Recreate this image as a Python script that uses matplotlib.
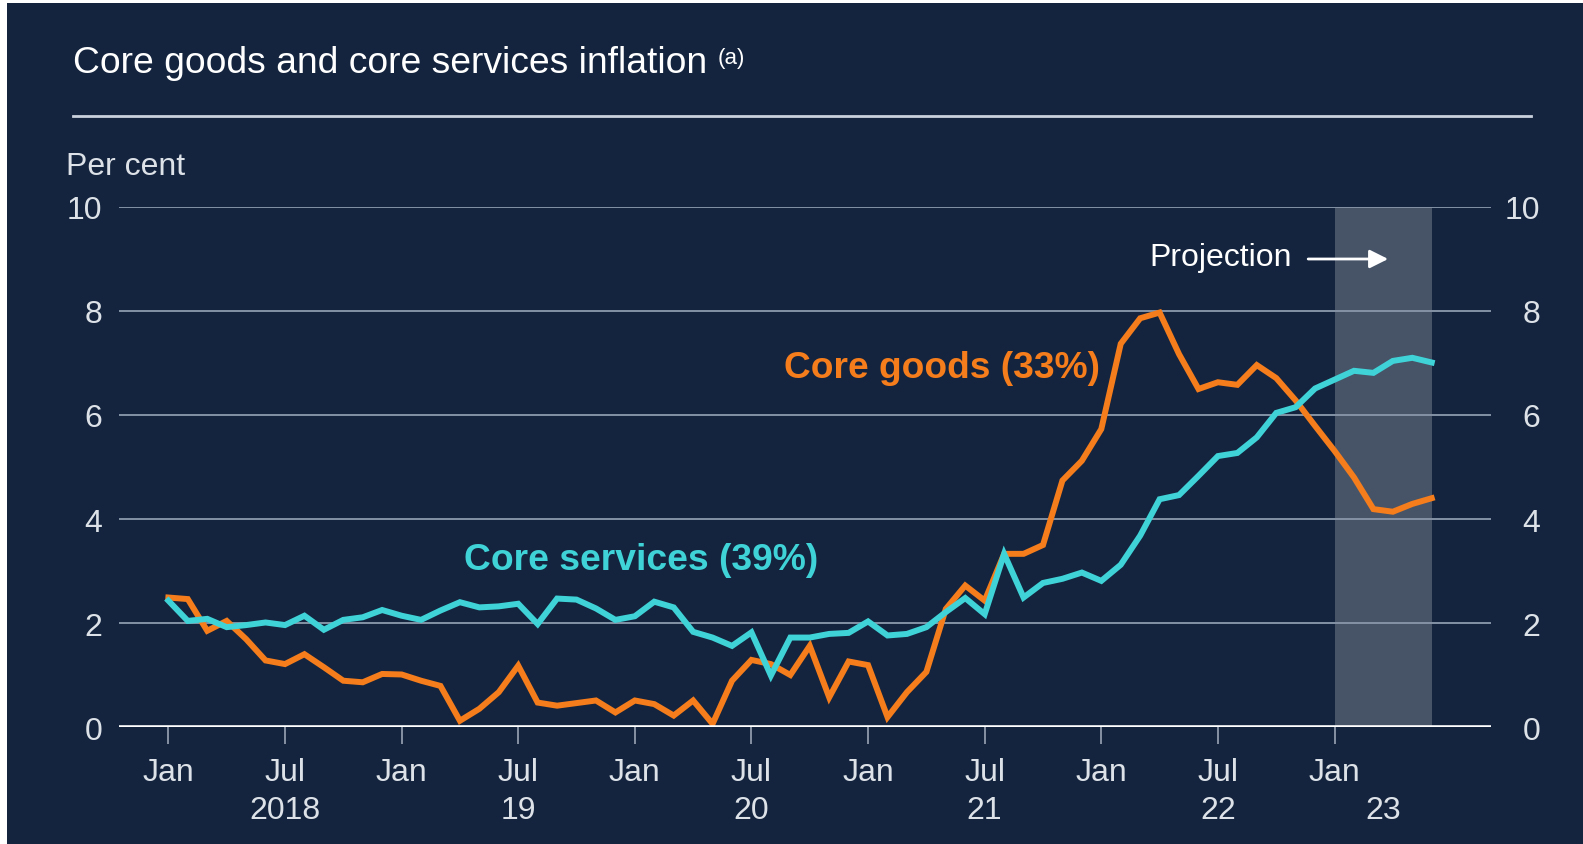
import matplotlib.pyplot as plt
import matplotlib.transforms as mtransforms
from matplotlib.lines import Line2D
from matplotlib.patches import Rectangle
import numpy as np

plt.rcParams['font.family'] = ['Liberation Sans', 'DejaVu Sans']

# monthly twelve-month rates, Jan 2018 to Jun 2023 (last six months projected)
months = np.arange(66)
core_goods = [2.49, 2.46, 1.85, 2.04, 1.69, 1.28, 1.21, 1.40, 1.15, 0.89, 0.86, 1.02,
              1.01, 0.89, 0.79, 0.12, 0.35, 0.67, 1.18, 0.47, 0.41, 0.46, 0.51, 0.28,
              0.51, 0.44, 0.22, 0.51, 0.06, 0.89, 1.29, 1.21, 1.00, 1.56, 0.57, 1.26,
              1.19, 0.19, 0.67, 1.06, 2.27, 2.72, 2.43, 3.33, 3.33, 3.50, 4.74, 5.12,
              5.73, 7.37, 7.86, 7.97, 7.17, 6.50, 6.63, 6.58, 6.96, 6.71, 6.28, 5.79,
              5.31, 4.80, 4.19, 4.14, 4.29, 4.40]
core_services = [2.43, 2.04, 2.08, 1.92, 1.96, 2.01, 1.96, 2.14, 1.87, 2.06, 2.11, 2.25,
                 2.14, 2.06, 2.24, 2.40, 2.30, 2.32, 2.37, 1.98, 2.47, 2.45, 2.28, 2.06,
                 2.13, 2.41, 2.30, 1.83, 1.72, 1.56, 1.82, 0.99, 1.72, 1.72, 1.79, 1.81,
                 2.03, 1.76, 1.79, 1.92, 2.21, 2.48, 2.17, 3.33, 2.49, 2.77, 2.85, 2.97,
                 2.81, 3.12, 3.68, 4.38, 4.46, 4.83, 5.21, 5.27, 5.57, 6.04, 6.15, 6.51,
                 6.68, 6.85, 6.81, 7.04, 7.10, 7.01]

tick_pos = np.arange(0, 61, 6)
tick_labels = ['Jan', 'Jul'] * 5 + ['Jan']
year_pos = [6, 18, 30, 42, 54, 62.5]
year_labels = ['2018', '19', '20', '21', '22', '23']
y_ticks = [0, 2, 4, 6, 8, 10]
proj_start, proj_end = 60, 65

BG = '#14243e'
ORANGE = '#f57d1c'
CYAN = '#3fd3d8'
TXT = '#dde2e8'
W, H = 1583, 845

fig = plt.figure(figsize=(W / 100, H / 100), dpi=100, facecolor=BG)
ax = fig.add_axes([119 / W, 1 - 728 / H, (1491 - 119) / W, (728 - 208) / H])
ax.set_facecolor(BG)
ax.set_xlim(-2.54, 68.05)
ax.set_ylim(0, 10)
for s in ax.spines.values():
    s.set_visible(False)

# gridlines, projection band, zero line
for y in y_ticks[1:]:
    ax.axhline(y, color='#8592a5', lw=1.4, zorder=1)
ax.axvspan(proj_start, proj_end, color='white', alpha=0.22, lw=0, zorder=0.5)
ax.axhline(0, color='white', lw=2.6, zorder=4)

ax.plot(months, core_goods, color=ORANGE, lw=4.3, solid_joinstyle='miter', zorder=3)
ax.plot(months, core_services, color=CYAN, lw=4.3, solid_joinstyle='miter', zorder=3)

# month ticks plus year labels (the year labels sit on some of the month positions)
ax.xaxis.remove_overlapping_locs = False
ax.set_xticks(tick_pos, tick_labels)
ax.set_xticks(year_pos, year_labels, minor=True)
ax.tick_params(axis='x', which='major', length=12, width=1.2, color='#9aa5b5',
               labelsize=23, labelcolor=TXT, pad=9.5)
ax.tick_params(axis='x', which='minor', length=0, labelsize=23, labelcolor=TXT, pad=49)
ax.set_yticks(y_ticks)
ax.tick_params(axis='y', length=0, pad=12, labelsize=23, labelcolor=TXT)

# right-hand axis labels
right = mtransforms.blended_transform_factory(fig.transFigure, ax.transData)
for y in y_ticks:
    ax.text(1540 / W, y, str(y), transform=right, ha='right', va='center_baseline',
            size=23, color=TXT)

ax.text(31.7, 6.91, 'Core goods (33%)', color=ORANGE, size=26.7, weight='bold',
        va='center', ha='left')
ax.text(15.2, 3.22, 'Core services (39%)', color=CYAN, size=26.8, weight='bold',
        va='center', ha='left')
ax.text(57.8, 9.03, 'Projection', color='white', size=23, va='center', ha='right')
ax.annotate('', xy=(62.9, 9.0), xytext=(58.5, 9.0),
            arrowprops=dict(arrowstyle='-|>', color='white', lw=2, mutation_scale=28))

# heading and rule
title = fig.text(72.7 / W, 1 - 73 / H, 'Core goods and core services inflation',
                 size=26.8, color='white', va='baseline')
fig.canvas.draw()
bb = title.get_window_extent()
fig.text((bb.x1 + 11) / W, 1 - 64 / H, '(a)', size=16, color='white', va='baseline')
fig.add_artist(Line2D([72.7 / W, 1531 / W], [1 - 117 / H] * 2, color='#c9d1dc', lw=2))
fig.text(65.6 / W, 1 - 166.6 / H, 'Per cent', size=23, color=TXT, va='center')

# thin white edge on the left and top
fig.add_artist(Rectangle((0, 0), 7 / W, 1, transform=fig.transFigure, color='white', lw=0))
fig.add_artist(Rectangle((0, 1 - 4 / H), 1, 4 / H, transform=fig.transFigure, color='white', lw=0))

fig.savefig('out.png', dpi=100, facecolor=BG)
